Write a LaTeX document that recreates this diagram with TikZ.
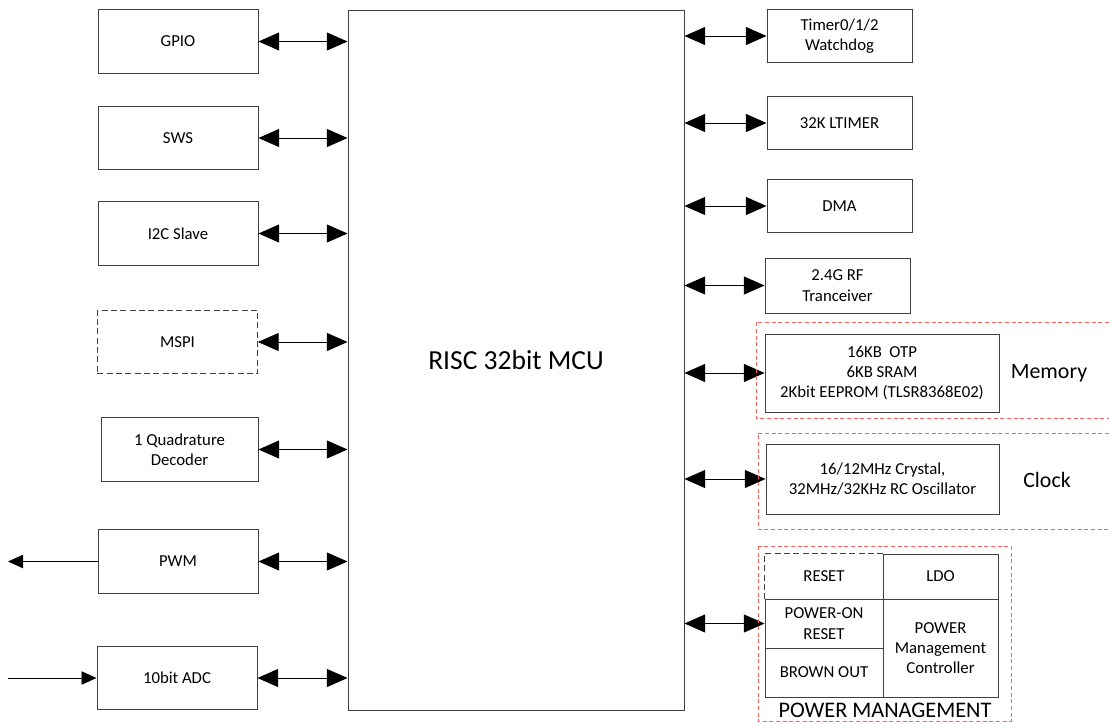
\documentclass[tikz,border=0pt]{standalone}
\usepackage{fontspec}
\setmainfont{Carlito}
\usetikzlibrary{arrows.meta}
\definecolor{frame}{RGB}{64,64,64}
\definecolor{grpred}{RGB}{250,95,95}
\tikzset{
  >={Triangle[length=0.62cm,width=0.54cm]},
  blk/.style={draw=frame, line width=0.8pt, align=center, inner sep=0pt,
    font=\fontsize{14.3}{17.3}\selectfont},
  lblk/.style={blk, minimum width=4.8cm, minimum height=1.9cm},
  rblk/.style={blk, minimum width=4.35cm, minimum height=1.58cm},
  wblk/.style={blk, minimum width=7.02cm},
  grp/.style={draw=grpred, line width=0.8pt, dash pattern=on 0.12cm off 0.08cm},
  link/.style={<->, line width=0.8pt},
  io/.style={-{Triangle[length=0.45cm,width=0.4cm]}, line width=0.8pt},
  big/.style={font=\fontsize{18.7}{22}\selectfont},
}
\begin{document}
\begin{tikzpicture}[x=0.03cm, y=-0.03cm]
\useasboundingbox (0,0) rectangle (1109,722);

% core
\node[blk, minimum width=10.08cm, minimum height=21cm, font=\fontsize{23.5}{28}\selectfont] (mcu) at (516,360) {RISC 32bit MCU};

% left side
\node[lblk] (gpio) at (178,41.5) {GPIO};
\node[lblk] (sws) at (178,138) {SWS};
\node[lblk] (i2c) at (178,233.5) {I2C Slave};
\node[lblk, dash pattern=on 0.18cm off 0.1cm] (mspi) at (177.5,342) {MSPI};
\node[lblk, minimum width=4.71cm] (qdec) at (179.5,449.5) {1 Quadrature\\Decoder};
\node[lblk] (pwm) at (178,561.5) {PWM};
\node[lblk] (adc) at (177,678) {10bit ADC};
\coordinate (pwmout) at (8,561);
\coordinate (adcin) at (8,677);

\foreach \n in {gpio,sws,i2c,mspi,qdec,pwm,adc}
  \draw[link] (\n.east) -- (\n.east -| mcu.west);
\draw[io] (pwm.west) -- (pwmout |- pwm.west);
\draw[io] (adcin |- adc.west) -- (adc.west);

% right side
\node[rblk] (timer) at (839.5,36) {Timer0/1/2\\Watchdog};
\node[rblk] (ltimer) at (839.5,123) {32K LTIMER};
\node[rblk] (dma) at (839.5,206) {DMA};
\node[rblk, minimum height=1.65cm] (rf) at (837.5,285.5) {2.4G RF\\Tranceiver};
\node[wblk, minimum height=2.34cm] (mem) at (882,373) {16KB\ \ OTP\\6KB SRAM\\2Kbit EEPROM (TLSR8368E02)};
\node[wblk, minimum width=6.99cm, minimum height=2.1cm] (clk) at (882.5,479) {16/12MHz Crystal,\\32MHz/32KHz RC Oscillator};

% power management cells
\node[blk, draw=none, minimum width=3.54cm, minimum height=1.35cm] (reset) at (824,576.5) {RESET};
\node[blk, minimum width=3.54cm, minimum height=1.47cm] (por) at (824,623.5) {POWER-ON\\RESET};
\node[blk, minimum width=3.54cm, minimum height=1.47cm] (bod) at (824,672.5) {BROWN OUT};
\node[blk, minimum width=3.45cm, minimum height=1.35cm] (ldo) at (940.5,576.5) {LDO};
\node[blk, minimum width=3.45cm, minimum height=2.94cm] (pmc) at (940.5,648) {POWER\\Management\\Controller};
\draw[frame, line width=0.8pt, dash pattern=on 0.18cm off 0.1cm] (reset.south west) |- (reset.north east);

\foreach \n in {timer,ltimer,dma,rf,mem,clk,por}
  \draw[link] (mcu.east |- \n.west) -- (\n.west);

% groups
\draw[grp] (1109,322) -- (756,322) -- (756,418) -- (1109,418);
\draw[grp] (1109,433) -- (758,433) -- (758,529) -- (1109,529);
\draw[grp] (758,546) rectangle (1011,721.5);
\node[big] (memlbl) at (1049,373) {Memory};
\node[big] (clklbl) at (1047,480) {Clock};
\node[font=\fontsize{19}{22}\selectfont] (pmlbl) at (885,710) {POWER MANAGEMENT};
\end{tikzpicture}
\end{document}
